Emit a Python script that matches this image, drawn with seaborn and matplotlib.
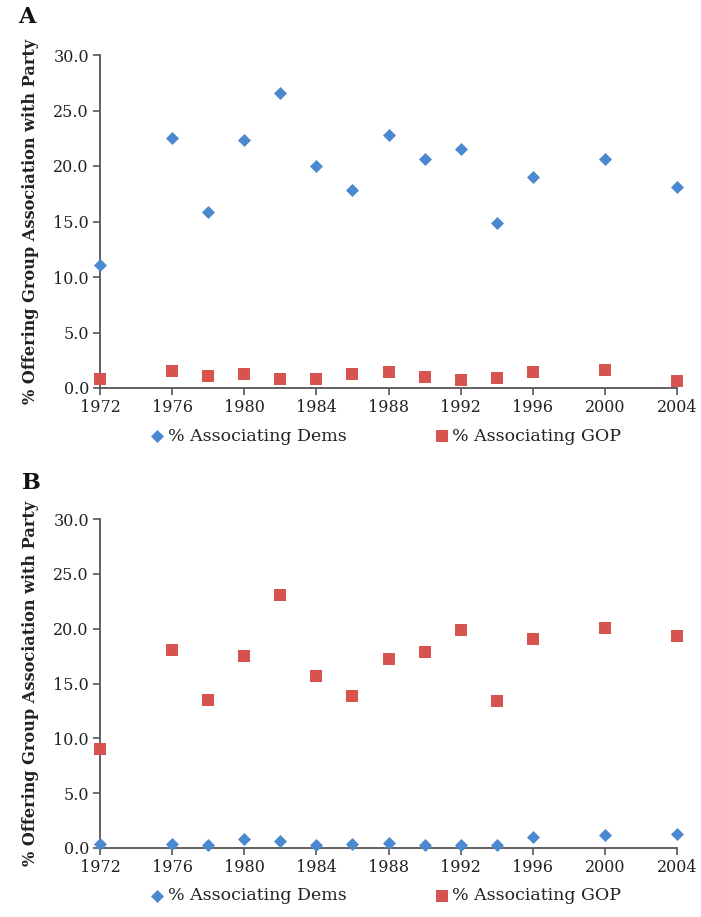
import numpy as np
import pandas as pd
import matplotlib
matplotlib.use("Agg")
import matplotlib.pyplot as plt
import seaborn as sns

years = [1972, 1976, 1978, 1980, 1982, 1984, 1986, 1988, 1990, 1992, 1994, 1996, 2000, 2004]
dems_A = [11.1, 22.5, 15.9, 22.3, 26.6, 20.0, 17.8, 22.8, 20.6, 21.5, 14.9, 19.0, 20.6, 18.1]
gop_A = [0.8, 1.5, 1.1, 1.3, 0.8, 0.8, 1.3, 1.4, 1.0, 0.7, 0.9, 1.4, 1.6, 0.6]
dems_B = [0.4, 0.4, 0.3, 0.8, 0.6, 0.3, 0.4, 0.5, 0.3, 0.3, 0.3, 1.0, 1.2, 1.3]
gop_B = [9.0, 18.1, 13.5, 17.5, 23.1, 15.7, 13.9, 17.2, 17.9, 19.9, 13.4, 19.1, 20.1, 19.3]
series_names = ["% Associating Dems", "% Associating GOP"]
panel_labels = ["A", "B"]
xticks = [1972, 1976, 1980, 1984, 1988, 1992, 1996, 2000, 2004]
yticks = [0, 5, 10, 15, 20, 25, 30]
ylabel = "% Offering Group Association with Party"

BLUE = "#4A89D0"
RED = "#D65350"

sns.set_theme(style="white")
plt.rcParams["font.family"] = ["DejaVu Serif"]

def make_df(d, g):
    return pd.DataFrame({
        "year": years * 2,
        "value": d + g,
        "series": [series_names[0]] * len(years) + [series_names[1]] * len(years),
    })

fig = plt.figure(figsize=(7.01, 9.17), dpi=100)
axA = fig.add_axes([100 / 701, 1 - 388 / 917, 577 / 701, 333 / 917])
axB = fig.add_axes([100 / 701, 1 - 848 / 917, 577 / 701, 329 / 917])

for ax, (d, g) in [(axA, (dems_A, gop_A)), (axB, (dems_B, gop_B))]:
    df = make_df(d, g)
    for name, mk, col, s in [(series_names[0], "D", BLUE, 44), (series_names[1], "s", RED, 78)]:
        sub = df[df["series"] == name]
        sns.scatterplot(data=sub, x="year", y="value", marker=mk, color=col, s=s,
                        linewidth=0, ax=ax, label=name, clip_on=False, zorder=3)
    ax.set_xlim(1972, 2004)
    ax.set_ylim(0, 30)
    ax.set_xticks(xticks)
    ax.set_xticklabels([str(x) for x in xticks])
    ax.set_yticks(yticks)
    ax.set_yticklabels([f"{v:.1f}" for v in yticks])
    for sp in ["top", "right"]:
        ax.spines[sp].set_visible(False)
    for sp in ["left", "bottom"]:
        ax.spines[sp].set_color("#555555")
        ax.spines[sp].set_linewidth(1.3)
    ax.tick_params(axis="both", direction="out", length=5, width=1.2, color="#555555",
                   labelsize=11.5, labelcolor="#222222", pad=3)
    ax.tick_params(axis="x", bottom=True)
    ax.tick_params(axis="y", left=True)
    ax.set_xlabel("")
    ax.set_ylabel(ylabel, fontsize=11.6, fontweight="bold", color="#222222", labelpad=10)
    leg = ax.legend(loc="center", bbox_to_anchor=(0.494, -0.145), ncol=2, frameon=False,
                    fontsize=12.5, columnspacing=5.0, handletextpad=0.1, handlelength=1.0,
                    markerscale=1.0)
    for t in leg.get_texts():
        t.set_color("#222222")

fig.text(18 / 701, 1 - 17 / 917, panel_labels[0], fontsize=16, fontweight="bold", va="center", ha="left", color="#111111")
fig.text(22 / 701, 1 - 483 / 917, panel_labels[1], fontsize=16, fontweight="bold", va="center", ha="left", color="#111111")

fig.savefig("out.png", dpi=100)
